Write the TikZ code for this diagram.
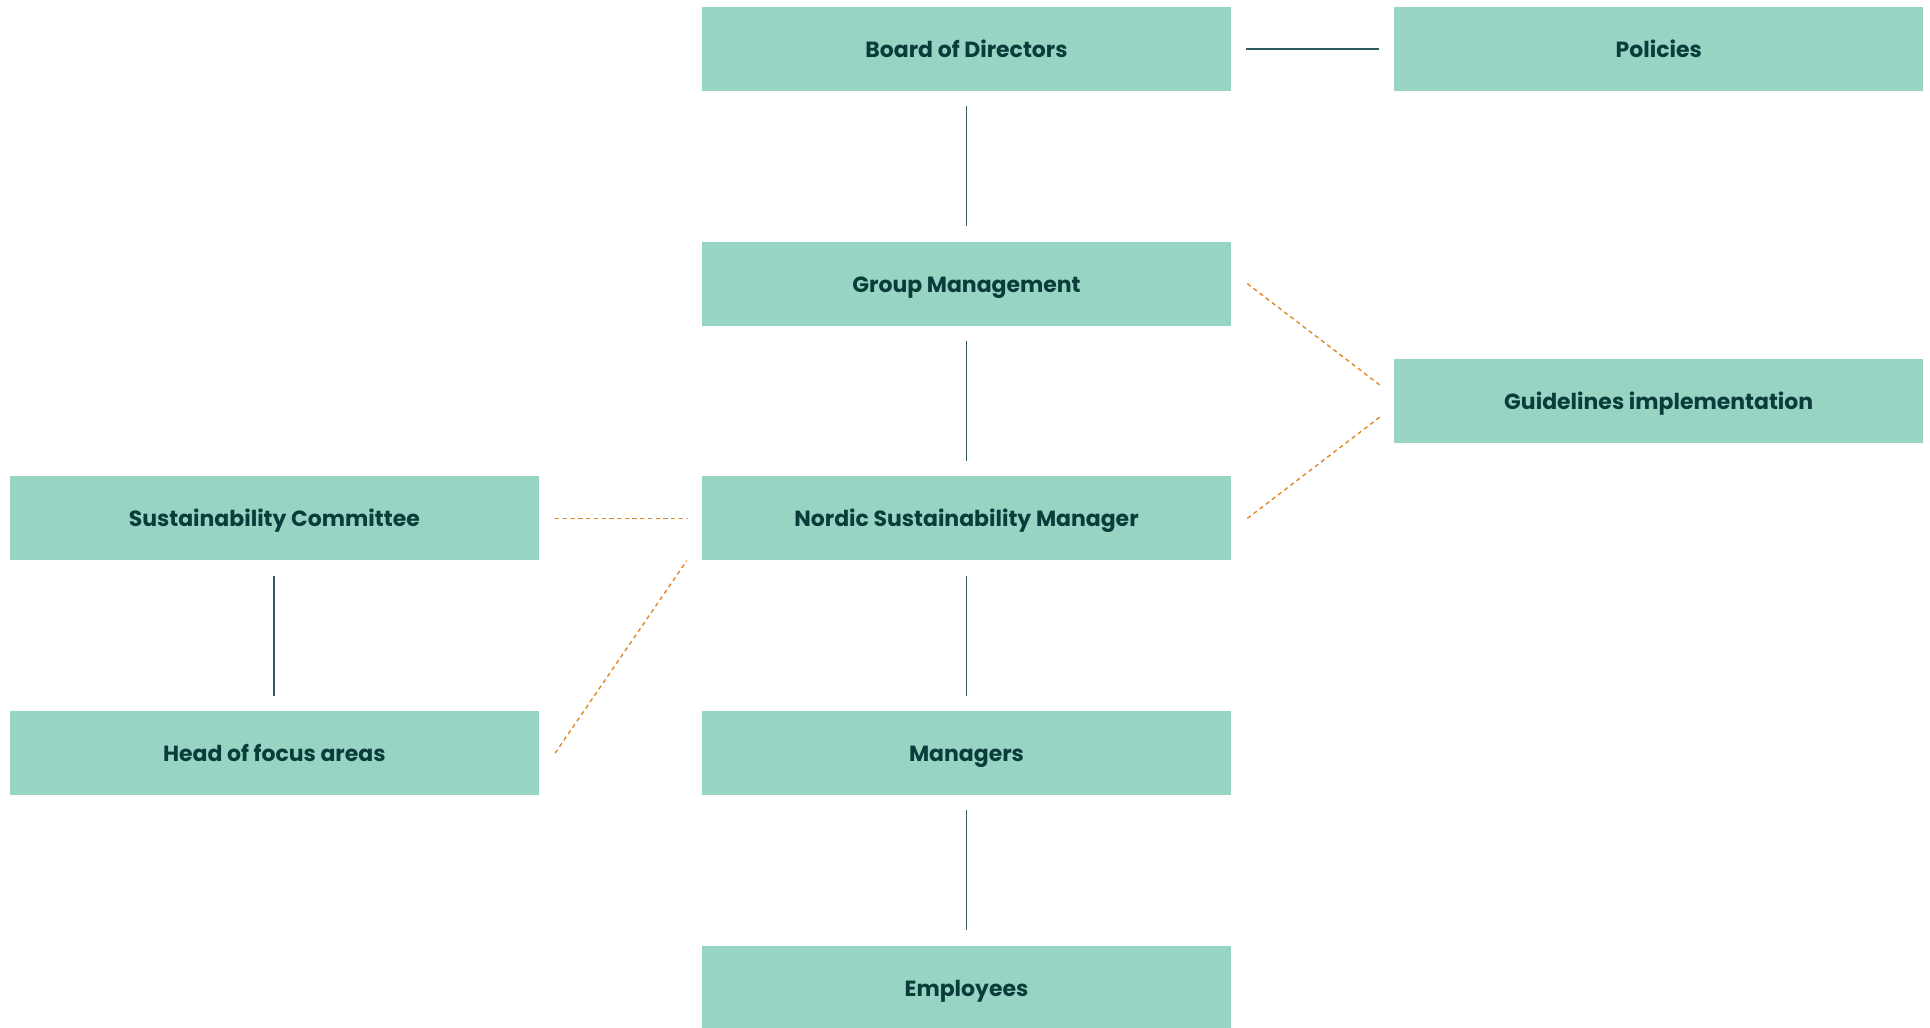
\documentclass[tikz,border=0pt]{standalone}
\usepackage{fontspec}
\setmainfont{Poppins}
\usepackage{tikz}
\usetikzlibrary{positioning,calc}
\definecolor{boxteal}{HTML}{97D4C4}
\definecolor{inkteal}{HTML}{0A3D3A}
\definecolor{lineslate}{HTML}{2E5C5E}
\definecolor{dashorange}{HTML}{E0892B}
\tikzset{box/.style={fill=boxteal, text=inkteal, font=\bfseries\fontsize{12.5}{14}\selectfont, minimum width=10.58cm, minimum height=1.68cm, inner sep=0pt, text height=1.75ex, text depth=0pt}, link/.style={draw=lineslate, line width=1.1pt, shorten <=0.3cm, shorten >=0.3cm}, dlink/.style={draw=dashorange, line width=0.8pt, dash pattern=on 2.4pt off 2pt}}

\begin{document}
\begin{tikzpicture}[node distance=3.0cm and 3.25cm]
\useasboundingbox (0,0) rectangle (38.6,20.54);
\node[box] (bod) at (19.33,19.56) {Board of Directors};
\node[box,right=of bod] (pol) {Policies};
\node[box,below=of bod] (grp) {Group Management};
\node[box,below=of grp] (nsm) {Nordic Sustainability Manager};
\node[box,below=of nsm] (mgr) {Managers};
\node[box,below=of mgr] (emp) {Employees};
\node[box,left=of nsm] (sc) {Sustainability Committee};
\node[box,below=of sc] (hfa) {Head of focus areas};
\coordinate (mid) at ($(grp.east)!0.5!(nsm.east)$);
\node[box,right=of mid] (gdl) {Guidelines implementation};
\draw[link] (bod)--(pol); \draw[link] (bod)--(grp); \draw[link] (grp)--(nsm); \draw[link] (nsm)--(mgr); \draw[link] (mgr)--(emp); \draw[link] (sc)--(hfa);
\draw[dlink] ([xshift=0.32cm]grp.east)--([xshift=-0.28cm,yshift=0.32cm]gdl.west);
\draw[dlink] ([xshift=0.32cm]nsm.east)--([xshift=-0.28cm,yshift=-0.32cm]gdl.west);
\draw[dlink] ([xshift=0.32cm]sc.east)--([xshift=-0.3cm]nsm.west);
\draw[dlink] ([xshift=0.32cm]hfa.east)--([xshift=-0.3cm]nsm.south west);
\end{tikzpicture}
\end{document}
